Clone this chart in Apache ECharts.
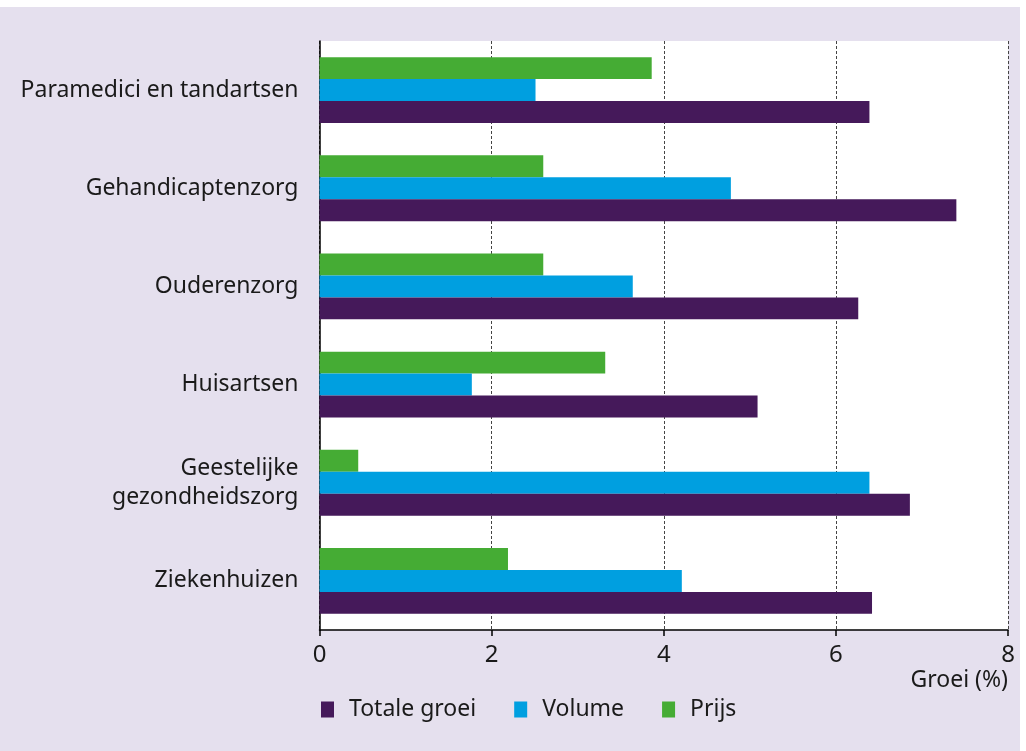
<!DOCTYPE html>
<html>
<head>
<meta charset="utf-8">
<script src="https://cdn.jsdelivr.net/npm/echarts@6/dist/echarts.min.js"></script>
<style>
  html, body { margin: 0; padding: 0; background: #ffffff; }
  #bg { position: absolute; left: 0; top: 7px; width: 1020px; height: 744px; background: #e5e0ee; }
  #chart { position: absolute; left: 0; top: 0; width: 1026px; height: 751px; }
</style>
</head>
<body>
<div id="bg"></div>
<div id="chart"></div>
<script>
const categories = ['Ziekenhuizen', 'Geestelijke\ngezondheidszorg', 'Huisartsen', 'Ouderenzorg', 'Gehandicaptenzorg', 'Paramedici en tandartsen'];
const seriesNames = ['Totale groei', 'Volume', 'Prijs'];
const totaleGroei = [6.42, 6.86, 5.09, 6.26, 7.40, 6.39];
const volume = [4.21, 6.39, 1.77, 3.64, 4.78, 2.51];
const prijs = [2.19, 0.45, 3.32, 2.60, 2.60, 3.86];
const xTicks = [0, 2, 4, 6, 8];
const colors = ['#45195a', '#009fe0', '#45ac34'];

const FONT = 'Noto Sans';
const chart = echarts.init(document.getElementById('chart'), null, { renderer: 'canvas' });
const seriesData = [totaleGroei, volume, prijs];

// Series are drawn top-to-bottom in series order, so reverse them so that
// "Prijs" is on top and "Totale groei" at the bottom of each group.
const order = [2, 1, 0];

chart.setOption({
  backgroundColor: 'transparent',
  animation: false,
  textStyle: { fontFamily: FONT },
  grid: {
    left: 319.5, right: 18, top: 41, bottom: 121,
    show: true, backgroundColor: '#ffffff', borderWidth: 0,
    containLabel: false
  },
  legend: {
    data: seriesNames,
    left: 316, top: 693,
    itemWidth: 13, itemHeight: 16, itemGap: 38,
    icon: 'rect',
    textStyle: { fontFamily: FONT, fontSize: 23, color: '#1a1a1a', padding: [0, 0, 0, 10] }
  },
  xAxis: {
    type: 'value',
    min: xTicks[0], max: xTicks[xTicks.length - 1], interval: 2,
    name: 'Groei (%)',
    nameLocation: 'end',
    nameGap: 0,
    nameTextStyle: { fontFamily: FONT, fontSize: 23, color: '#1a1a1a', align: 'right', verticalAlign: 'top', padding: [39, 0, 0, 0] },
    axisLine: { show: true, lineStyle: { color: '#000', width: 1.5 } },
    axisTick: { show: true, length: 6, lineStyle: { color: '#000', width: 1.5 } },
    axisLabel: { fontFamily: FONT, fontSize: 24, color: '#1a1a1a', margin: 13 },
    splitLine: { show: true, lineStyle: { color: '#444', type: [3, 2], width: 1 } }
  },
  yAxis: {
    type: 'category',
    data: categories,
    axisLine: { show: true, lineStyle: { color: '#000', width: 1.5 } },
    axisTick: { show: false },
    axisLabel: { fontFamily: FONT, fontSize: 23, color: '#1a1a1a', margin: 21, lineHeight: 29, align: 'right', padding: [5, 0, 0, 0] },
    splitLine: { show: false }
  },
  series: order.map((i) => ({
    name: seriesNames[i],
    type: 'bar',
    data: seriesData[i],
    barGap: '0%',
    barCategoryGap: '33%',
    itemStyle: { color: colors[i] }
  }))
});
</script>
</body>
</html>
